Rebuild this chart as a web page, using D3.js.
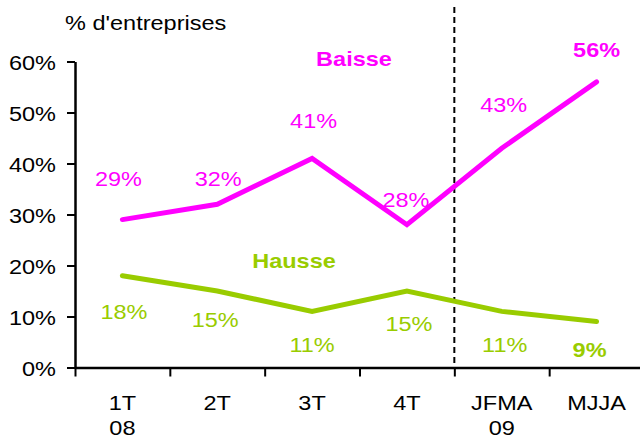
<!DOCTYPE html>
<html><head><meta charset="utf-8">
<script src="https://cdn.jsdelivr.net/npm/d3@7"></script>
<style>body{margin:0;background:#fff;overflow:hidden}</style>
</head><body><svg id="c" width="640" height="444"></svg>
<script>
// ---- data ----
const categories = ["1T", "2T", "3T", "4T", "JFMA", "MJJA"];
const categoryYears = ["08", "", "", "", "09", ""];
const baisse = [29, 32, 41, 28, 43, 56];
const hausse = [18, 15, 11, 15, 11, 9];
const yTicks = [0, 10, 20, 30, 40, 50, 60];
const seriesNames = ["Baisse", "Hausse"];
const yTitle = "% d'entreprises";

// ---- layout / style ----
const plotLeft = 75, plotRight = 644, plotTop = 61.5, plotBottom = 367.5;
const FONT = "'Liberation Sans', Arial, Helvetica, sans-serif";
const FS = 21, SX = 1.12;
const MAGENTA = "#FF00FF", GREEN = "#99CC00";
const baisseLabelOffsets = [[-4, -34], [1, -18], [1.5, -30], [-1, -18], [2, -36], [0, -25]];
const hausseLabelOffsets = [[1.5, 43], [-2, 36], [0, 40.5], [2, 40], [3, 40.5], [-7, 35.5]];

const svg = d3.select("#c");
const x = d3.scaleBand().domain(categories).range([plotLeft, plotRight]).padding(0);
const xb = d3.scaleLinear().domain([0, categories.length]).range([plotLeft, plotRight]);
const y = d3.scaleLinear().domain([0, 60]).range([plotBottom, plotTop]);
const cx = c => x(c) + x.bandwidth() / 2;

function txt(g, s, px, py, opts = {}) {
  return g.append("text")
    .attr("transform", `translate(${px},${py}) scale(${SX},1)`)
    .attr("text-anchor", opts.anchor || "middle")
    .attr("font-family", FONT)
    .attr("font-size", opts.size || FS)
    .attr("font-weight", opts.bold ? "bold" : "normal")
    .attr("fill", opts.fill || "#000")
    .text(s);
}

// Y axis
const ya = svg.append("g").attr("transform", `translate(${plotLeft},0)`)
  .call(d3.axisLeft(y).tickValues(yTicks).tickSize(8).tickSizeOuter(0).tickPadding(9).tickFormat(d => d + "%"));
ya.select(".domain").attr("stroke", "#000").attr("stroke-width", 2.5);
ya.selectAll(".tick line").attr("stroke", "#000").attr("stroke-width", 2);
ya.selectAll(".tick text")
  .attr("font-family", FONT).attr("font-size", FS).attr("fill", "#000")
  .attr("dy", "0.36em")
  .attr("transform", `scale(${SX},1)`)
  .attr("x", -19 / SX);

// X axis (ticks at band boundaries)
const xa = svg.append("g").attr("transform", `translate(0,${plotBottom})`)
  .call(d3.axisBottom(xb).tickValues(d3.range(categories.length + 1)).tickSize(9).tickSizeOuter(0).tickFormat(""));
xa.select(".domain").attr("stroke", "#000").attr("stroke-width", 2.5);
xa.selectAll(".tick line").attr("stroke", "#000").attr("stroke-width", 2);

// Category labels
categories.forEach((c, i) => {
  txt(svg, c, cx(c), 410);
  if (categoryYears[i]) txt(svg, categoryYears[i], cx(c), 435);
});

// Title
txt(svg, yTitle, 65, 29.5, { anchor: "start" });

// Dashed separator between 4T and JFMA
svg.append("line")
  .attr("x1", x("JFMA")).attr("x2", x("JFMA"))
  .attr("y1", 7).attr("y2", plotBottom)
  .attr("stroke", "#000").attr("stroke-width", 2)
  .attr("stroke-dasharray", "6,4");

// Lines
const line = d3.line().x((d, i) => cx(categories[i])).y(d => y(d));
[[baisse, MAGENTA], [hausse, GREEN]].forEach(([vals, col]) => {
  svg.append("path").datum(vals)
    .attr("d", line).attr("fill", "none")
    .attr("stroke", col).attr("stroke-width", 5)
    .attr("stroke-linecap", "round").attr("stroke-linejoin", "miter");
});

// Value labels
function labels(vals, offs, col) {
  vals.forEach((v, i) => {
    const c = categories[i];
    txt(svg, v + "%", cx(c) + offs[i][0], y(v) + offs[i][1],
      { fill: col, bold: i === vals.length - 1 });
  });
}
labels(baisse, baisseLabelOffsets, MAGENTA);
labels(hausse, hausseLabelOffsets, GREEN);

// Series names
txt(svg, seriesNames[0], 354, 66, { fill: MAGENTA, bold: true });
txt(svg, seriesNames[1], 294, 268, { fill: GREEN, bold: true });
</script>
</body></html>
